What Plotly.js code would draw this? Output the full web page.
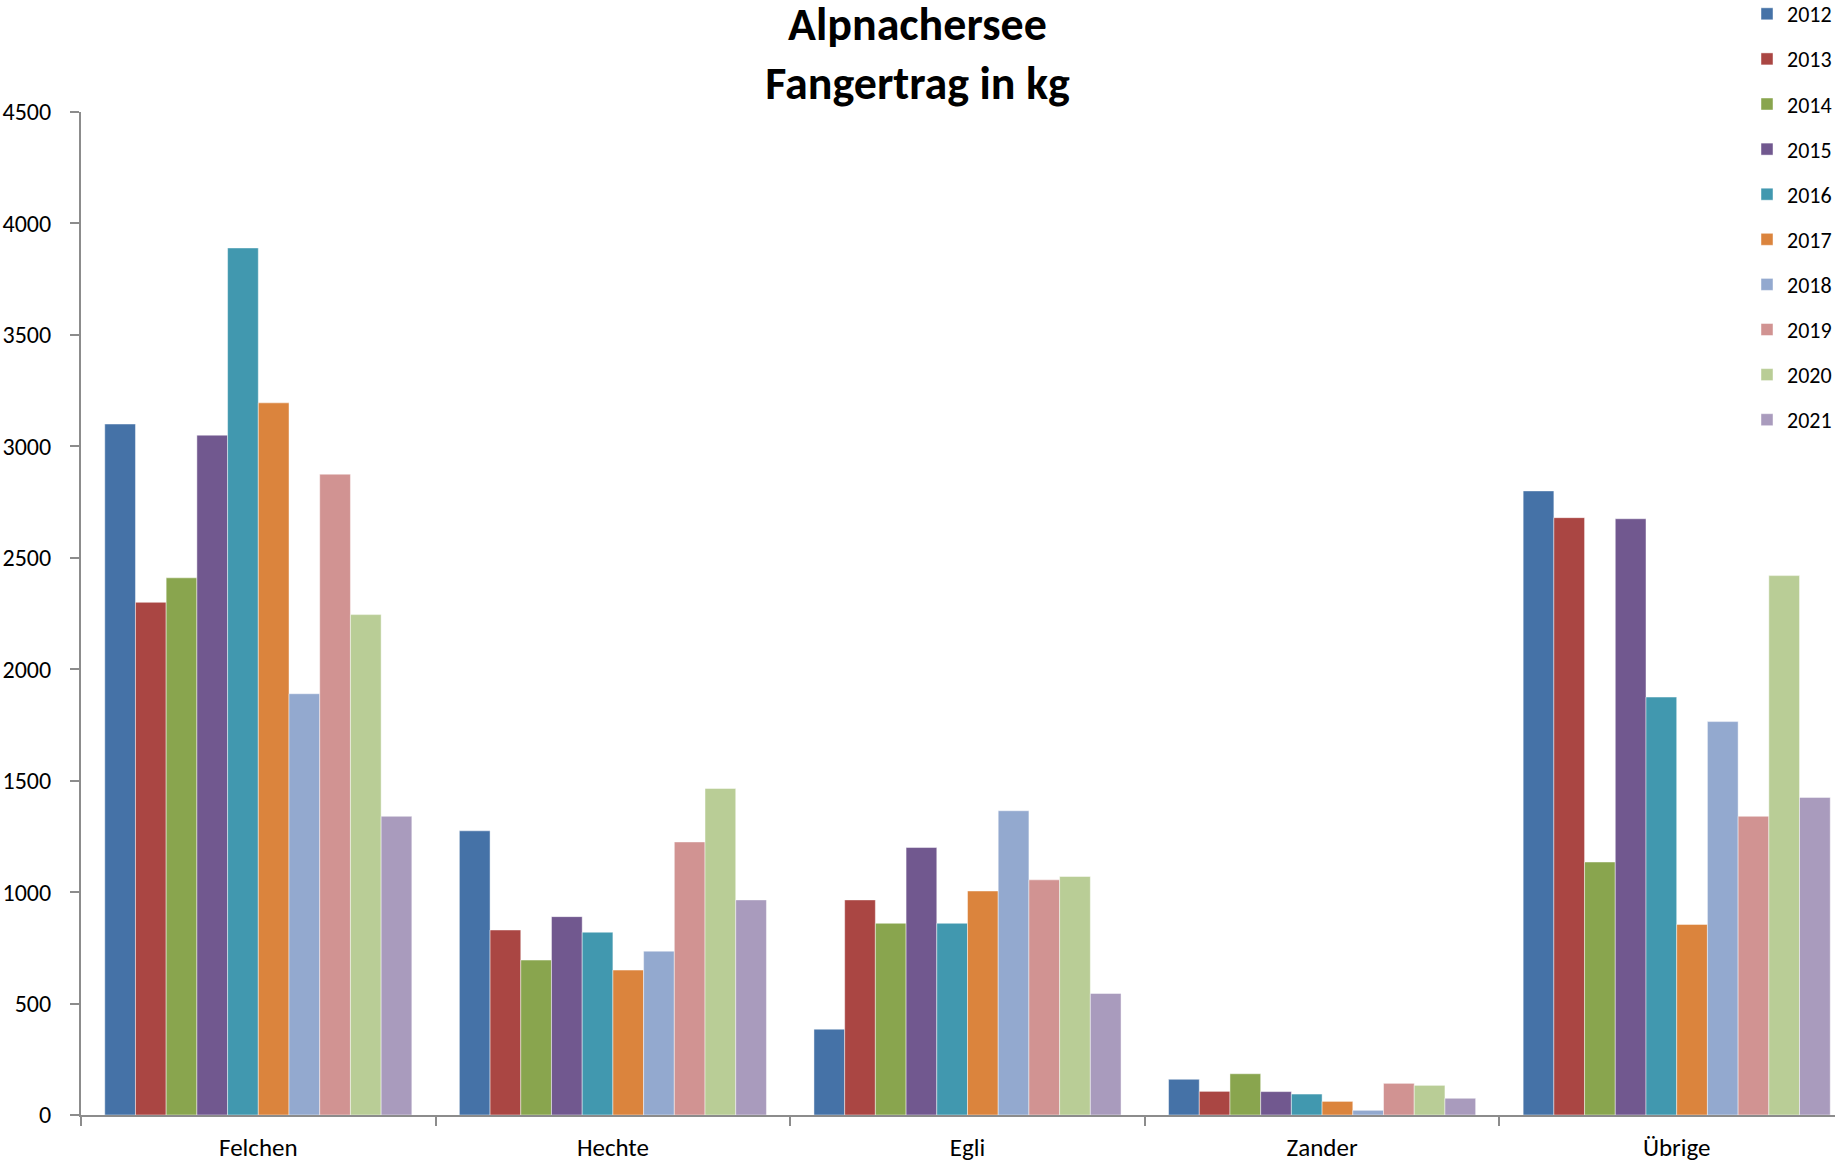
<!DOCTYPE html>
<html>
<head>
<meta charset="utf-8">
<script src="https://cdn.plot.ly/plotly-3.0.1.min.js"></script>
<style>html,body{margin:0;padding:0;background:#fff;}#chart{width:1835px;height:1162px;}</style>
</head>
<body>
<div id="chart"></div>
<script>
const categories = ["Felchen", "Hechte", "Egli", "Zander", "Übrige"];
const years = ["2012","2013","2014","2015","2016","2017","2018","2019","2020","2021"];
const v2012 = [3100, 1275, 385, 160, 2800];
const v2013 = [2300, 830, 965, 106, 2680];
const v2014 = [2410, 695, 860, 185, 1135];
const v2015 = [3050, 890, 1200, 105, 2675];
const v2016 = [3890, 820, 860, 94, 1875];
const v2017 = [3195, 650, 1005, 61, 855];
const v2018 = [1890, 735, 1365, 21, 1765];
const v2019 = [2875, 1225, 1055, 142, 1340];
const v2020 = [2245, 1465, 1070, 133, 2420];
const v2021 = [1340, 965, 545, 75, 1425];
const seriesValues = [v2012, v2013, v2014, v2015, v2016, v2017, v2018, v2019, v2020, v2021];
const yTicks = [0, 500, 1000, 1500, 2000, 2500, 3000, 3500, 4000, 4500];

const colors = ["#4572A7","#AA4643","#89A54E","#71588F","#4198AF","#DB843D","#93A9CF","#D19392","#B9CD96","#A99BBD"];
const FONT = "Carlito, Lato, 'Open Sans', sans-serif";
const AX = "#8c8c8c";

const traces = years.map((yr, i) => ({
  type: "bar",
  name: yr,
  x: categories,
  y: seriesValues[i],
  legendgroup: "g" + yr,
  marker: {color: colors[i], line: {color: "rgba(255,255,255,0.45)", width: 1}},
  hoverinfo: "x+y+name"
}));

const W = 1835, H = 1162, ML = 81, MT = 112, MB = 47;
const plotW = W - ML, plotH = H - MT - MB;
const xEnd = -0.5 + plotW / 354.6;

const layout = {
  width: W,
  height: H,
  paper_bgcolor: "#fff",
  plot_bgcolor: "#fff",
  font: {family: FONT, size: 24, color: "#000"},
  margin: {l: ML, r: 0, t: MT, b: MB, pad: 0, autoexpand: false},
  barmode: "group",
  bargap: 0.134,
  bargroupgap: 0,
  title: {
    text: "<b>Alpnachersee<br>Fangertrag in kg</b>",
    font: {family: FONT, size: 46, color: "#000"},
    x: 0.5, xref: "container", xanchor: "center",
    y: 0.966, yref: "container", yanchor: "top",
    automargin: false
  },
  xaxis: {
    type: "category",
    range: [-0.5, xEnd],
    showline: true, linecolor: AX, linewidth: 2,
    ticks: "outside", tickson: "boundaries", ticklen: 9, tickcolor: AX, tickwidth: 2,
    showgrid: false, zeroline: false,
    tickfont: {family: FONT, size: 25, color: "#000"},
    ticklabelstandoff: 9
  },
  yaxis: {
    range: [0, 4500],
    tickvals: yTicks,
    showline: true, linecolor: AX, linewidth: 2,
    ticks: "outside", ticklen: 9, tickcolor: AX, tickwidth: 2,
    showgrid: false, zeroline: false,
    tickfont: {family: FONT, size: 24, color: "#000"},
    ticklabelstandoff: 14
  },
  xaxis2: {
    overlaying: "x", type: "linear", range: [-0.5, xEnd],
    tickvals: [0.5, 1.5, 2.5, 3.5, 4.5],
    ticks: "inside", ticklen: 8, tickcolor: AX, tickwidth: 2,
    showticklabels: false, showgrid: false, zeroline: false, showline: false,
    anchor: "y", side: "bottom"
  },
  yaxis2: {
    overlaying: "y", range: [0, 4500], tickvals: yTicks,
    ticks: "inside", ticklen: 8, tickcolor: AX, tickwidth: 2,
    showticklabels: false, showgrid: false, zeroline: false, showline: false,
    anchor: "x", side: "left"
  },
  showlegend: true,
  legend: {
    xref: "paper", yref: "paper",
    x: (1747 - ML) / plotW, xanchor: "left",
    y: 1 + (MT + 7) / plotH, yanchor: "top",
    font: {family: FONT, size: 22, color: "#000"},
    tracegroupgap: 13.5,
    bgcolor: "rgba(0,0,0,0)",
    borderwidth: 0
  }
};

Plotly.newPlot("chart", traces, layout, {displayModeBar: false, staticPlot: true});
</script>
</body>
</html>
